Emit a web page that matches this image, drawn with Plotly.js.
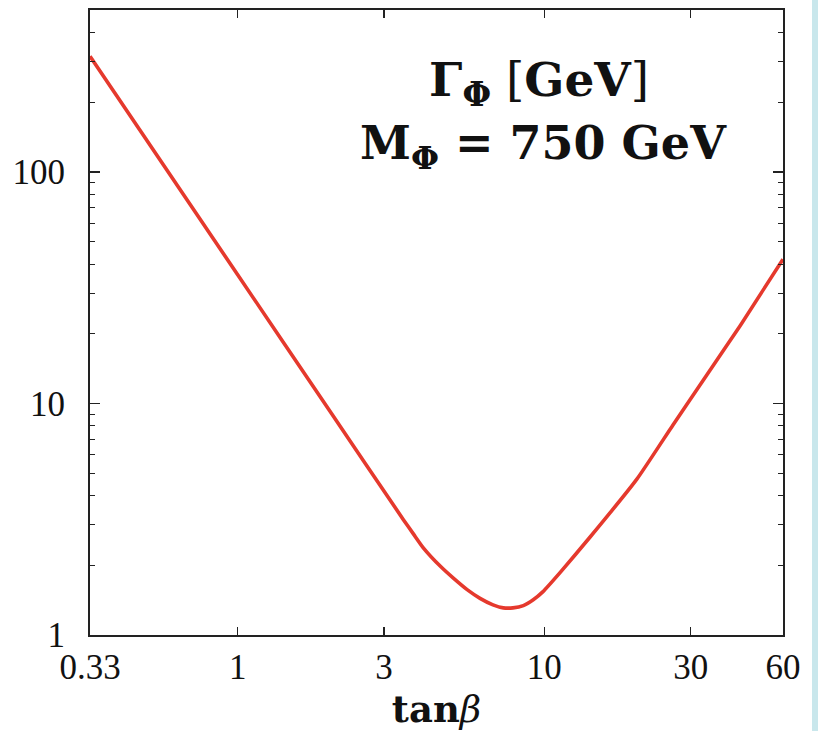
<!DOCTYPE html>
<html>
<head>
<meta charset="utf-8">
<script src="https://cdn.plot.ly/plotly-3.0.1.min.js"></script>
<style>
  html, body { margin: 0; padding: 0; background: #ffffff; }
  #chart { width: 818px; height: 731px; }
  #strip { position: absolute; left: 812px; top: 0; width: 6px; height: 731px; background: #c9e7ec; }
</style>
</head>
<body>
<div id="chart"></div>
<div id="strip"></div>
<script>
// tan(beta) values and total width Gamma_Phi [GeV]
const tanBeta = [0.33, 1, 2, 3.47, 3.75, 4.03, 4.6, 5.05, 5.6, 6.17, 6.8, 7.35, 7.9, 8.54, 9.2, 9.9, 11.25, 14.1, 20, 26.3, 33.9, 43.5, 60];
const widthGeV = [316, 36, 9.25, 3.15, 2.72, 2.38, 1.97, 1.76, 1.57, 1.44, 1.35, 1.31, 1.31, 1.34, 1.42, 1.54, 1.86, 2.65, 4.7, 8.1, 13.3, 21.7, 42];
const xTickVals = [0.33, 1, 3, 10, 30, 60];
const xTickText = ['0.33', '1', '3', '10', '30', '60'];
const yTickVals = [1, 10, 100];
const yTickText = ['1', '10', '100'];

const serif = 'Liberation Serif, DejaVu Serif, serif';
const wide = 'DejaVu Serif, Liberation Serif, serif';

const trace = {
  x: tanBeta, y: widthGeV, type: 'scatter', mode: 'lines',
  line: { color: '#e5392d', width: 3.6, shape: 'spline', smoothing: 0.5 },
  hoverinfo: 'skip', showlegend: false
};

const layout = {
  width: 818, height: 731,
  margin: { l: 90, r: 35, t: 10, b: 96 },
  paper_bgcolor: '#ffffff', plot_bgcolor: '#ffffff',
  font: { family: serif, color: '#111' },
  xaxis: {
    type: 'log', range: [Math.log10(0.33), Math.log10(60)],
    tickmode: 'array', tickvals: xTickVals, ticktext: xTickText,
    ticks: 'inside', ticklen: 8, tickwidth: 1.2, tickcolor: '#222',
    showline: true, linecolor: '#222', linewidth: 2, mirror: 'ticks',
    showgrid: false, zeroline: false,
    tickfont: { family: serif, size: 35, color: '#111' },
    ticklabelstandoff: 0,
    title: { text: '<b>tan</b><i>β</i>', font: { family: wide, size: 37, color: '#111' }, standoff: 6 }
  },
  yaxis: {
    type: 'log', range: [0, 2.7],
    tickmode: 'array', tickvals: yTickVals, ticktext: yTickText,
    ticks: 'inside', ticklen: 10, tickwidth: 1.2, tickcolor: '#222',
    minor: { ticks: 'inside', ticklen: 5, tickwidth: 1, tickcolor: '#222', dtick: 'D1', showgrid: false },
    showline: true, linecolor: '#222', linewidth: 2, mirror: 'ticks',
    showgrid: false, zeroline: false,
    tickfont: { family: serif, size: 35, color: '#111' },
    ticklabelstandoff: 16
  },
  annotations: [
    { xref: 'paper', yref: 'paper', x: 0.648, y: 0.884, xanchor: 'center', yanchor: 'middle',
      text: '<b>Γ<sub>Φ</sub></b> [<b>GeV</b>]', showarrow: false,
      font: { family: wide, size: 47, color: '#111' } },
    { xref: 'paper', yref: 'paper', x: 0.654, y: 0.782, xanchor: 'center', yanchor: 'middle',
      text: '<b>M<sub>Φ</sub> = 750 GeV</b>', showarrow: false,
      font: { family: wide, size: 46, color: '#111' } }
  ]
};

Plotly.newPlot('chart', [trace], layout, { staticPlot: true, displayModeBar: false });
</script>
</body>
</html>
